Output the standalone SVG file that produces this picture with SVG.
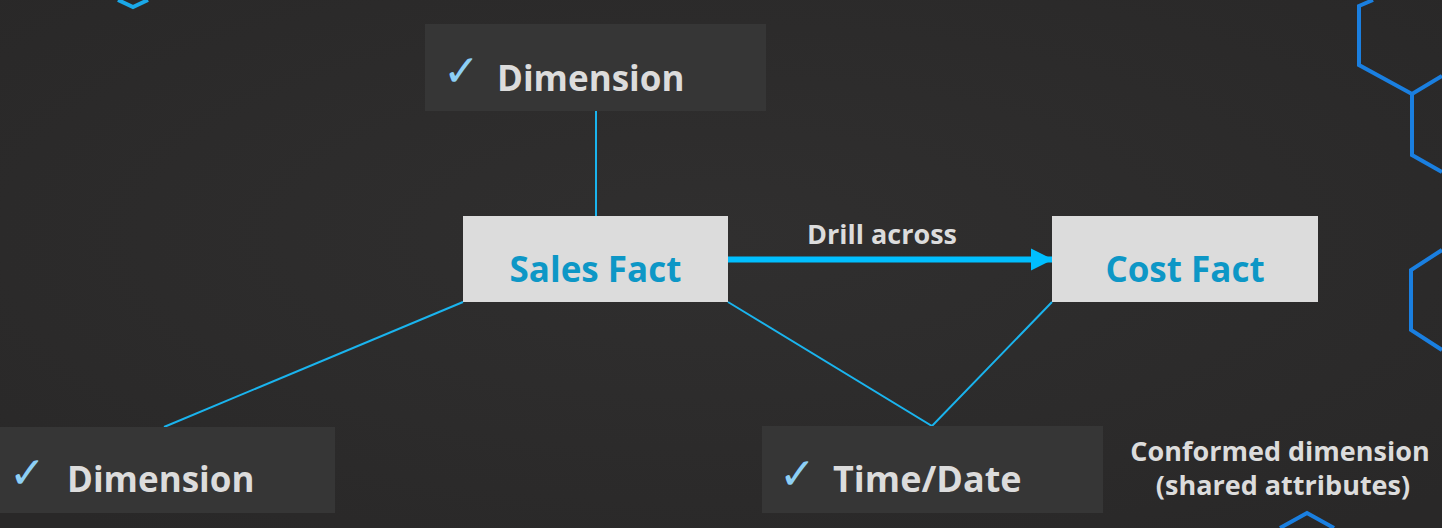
<svg xmlns="http://www.w3.org/2000/svg" width="1442" height="528" viewBox="0 0 1442 528">
<defs>
<radialGradient id="bg" cx="50%" cy="45%" r="70%">
<stop offset="0" stop-color="#302f2f"/>
<stop offset="1" stop-color="#292828"/>
</radialGradient>
<marker id="ah" markerUnits="userSpaceOnUse" markerWidth="24" markerHeight="24" refX="22" refY="12" orient="auto">
<path d="M0,1 L22,12 L0,23 Z" fill="#00bfff"/>
</marker>
<style>
.dim{fill:#363636}
.fact{fill:#dcdcdc}
.lbl{font-family:"Open Sans","Liberation Sans",sans-serif;font-weight:700;fill:#dcdcdc}
.flbl{font-family:"Open Sans","Liberation Sans",sans-serif;font-weight:700;fill:#0d97c6}
.chk{font-family:"DejaVu Sans",sans-serif;fill:#8dcff5}
.conn{stroke:#1ab4ee;stroke-width:2;fill:none}
.hex{fill:none;stroke:#1a7fe0;stroke-width:4}
</style>
</defs>
<rect width="1442" height="528" fill="url(#bg)"/>
<g id="decor">
<polyline points="118,0 133,7 148,0" fill="none" stroke="#1aa8e8" stroke-width="4"/>
<polyline class="hex" points="1373,0 1359,6 1359,65 1412,94 1442,76"/>
<polyline class="hex" points="1412,94 1412,155 1442,172"/>
<polyline class="hex" points="1442,250 1411,270 1411,330 1442,350"/>
<polyline class="hex" points="1280,528 1307,513 1334,528"/>
</g>
<g id="connectors">
<line class="conn" x1="596" y1="111" x2="596" y2="216"/>
<line class="conn" x1="463" y1="302" x2="164" y2="427"/>
<polyline class="conn" points="728,302 932,426 1052,302"/>
<line x1="728" y1="259.5" x2="1053" y2="259.5" stroke="#00bfff" stroke-width="6" marker-end="url(#ah)"/>
<text class="lbl" x="882" y="244" font-size="27" text-anchor="middle">Drill across</text>
</g>
<g id="dim-top">
<rect class="dim" x="425" y="24" width="341" height="87"/>
<text class="chk" x="443" y="86" font-size="44">✓</text>
<text class="lbl" x="497" y="91" font-size="35">Dimension</text>
</g>
<g id="sales-fact">
<rect class="fact" x="463" y="216" width="265" height="86"/>
<text class="flbl" x="595.5" y="282" font-size="35" text-anchor="middle">Sales Fact</text>
</g>
<g id="cost-fact">
<rect class="fact" x="1052" y="216" width="266" height="86"/>
<text class="flbl" x="1185" y="282" font-size="35" text-anchor="middle">Cost Fact</text>
</g>
<g id="dim-left">
<rect class="dim" x="0" y="427" width="335" height="86"/>
<text class="chk" x="9" y="488" font-size="44">✓</text>
<text class="lbl" x="67" y="492" font-size="35">Dimension</text>
</g>
<g id="time-date">
<rect class="dim" x="762" y="426" width="341" height="87"/>
<text class="chk" x="779" y="489" font-size="44">✓</text>
<text class="lbl" x="833" y="492" font-size="36">Time/Date</text>
</g>
<g id="conformed-note">
<text class="lbl" x="1280" y="461" font-size="27" text-anchor="middle">Conformed dimension</text>
<text class="lbl" x="1283" y="495" font-size="27" text-anchor="middle">(shared attributes)</text>
</g>
</svg>
